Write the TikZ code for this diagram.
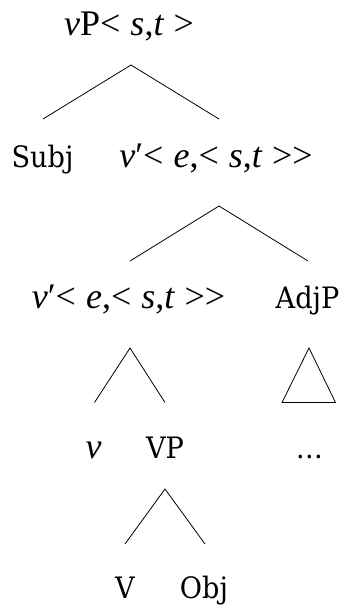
\documentclass[tikz,border=0pt]{standalone}
\usepackage{fontspec}
\setmainfont{DejaVu Serif}[FakeStretch=0.92]
\newfontfamily\symfont{Liberation Serif}
% italic letters and relation signs of the type labels
\newcommand{\tyit}[1]{{\symfont\itshape #1}}
\newcommand{\tyup}[1]{{\symfont #1}}
\newcommand{\tylt}{{\symfont <}}
\newcommand{\tygt}{{\symfont >}}
\newcommand{\tysp}{\hspace{0.28em}}
\begin{document}
\begin{tikzpicture}[x=1pt,y=-1pt,
  cat/.style={anchor=base,inner sep=0pt,font=\fontsize{29.5}{33}\selectfont},
  typ/.style={anchor=base,inner sep=0pt,font=\fontsize{36}{40}\selectfont},
  branch/.style={line width=0.8pt,line join=miter}]
\useasboundingbox (0,0) rectangle (344,606);

% labels
\node[typ] (top) at (129,35) {\tyit{v}\tyup{P}\tylt\tysp\tyit{s}\tyup{,}\tyit{t}\tysp\tygt};
\node[cat] (subj) at (42.5,167) {Subj};
\node[typ] (vbarA) at (216,167) {\tyit{v}\tyup{′}\tylt\tysp\tyit{e}\tyup{,}\tylt\tysp\tyit{s}\tyup{,}\tyit{t}\tysp\tygt\tygt};
\node[typ] (vbarB) at (128.5,308) {\tyit{v}\tyup{′}\tylt\tysp\tyit{e}\tyup{,}\tylt\tysp\tyit{s}\tyup{,}\tyit{t}\tysp\tygt\tygt};
\node[cat] (adjp) at (307.5,308) {AdjP};
\node[typ] (v) at (93.5,458) {\tyit{v}};
\node[cat] (vp) at (165,458) {VP};
\node[cat] (dots) at (309.5,458) {\dots};
\node[cat] (V) at (125,598) {V};
\node[cat] (obj) at (204,598) {Obj};

% branch points
\coordinate (top-r) at (131,65);
\coordinate (subj-t) at (43,119);
\coordinate (vbarA-t) at (219,119);
\coordinate (vbarA-r) at (219,206);
\coordinate (vbarB-t) at (130,261);
\coordinate (adjp-t) at (308,261);
\coordinate (vbarB-r) at (130,348);
\coordinate (v-t) at (94.5,402.5);
\coordinate (vp-t) at (165,402.5);
\coordinate (adjp-r) at (309,348);
\coordinate (adjp-bl) at (282,402.5);
\coordinate (adjp-br) at (335.5,402.5);
\coordinate (vp-r) at (165,489);
\coordinate (V-t) at (125,544);
\coordinate (obj-t) at (205,544);

% branches
\draw[branch] (subj-t) -- (top-r) -- (vbarA-t);
\draw[branch] (vbarB-t) -- (vbarA-r) -- (adjp-t);
\draw[branch] (v-t) -- (vbarB-r) -- (vp-t);
\draw[branch] (adjp-r) -- (adjp-br) -- (adjp-bl) -- cycle;
\draw[branch] (V-t) -- (vp-r) -- (obj-t);
\end{tikzpicture}
\end{document}
